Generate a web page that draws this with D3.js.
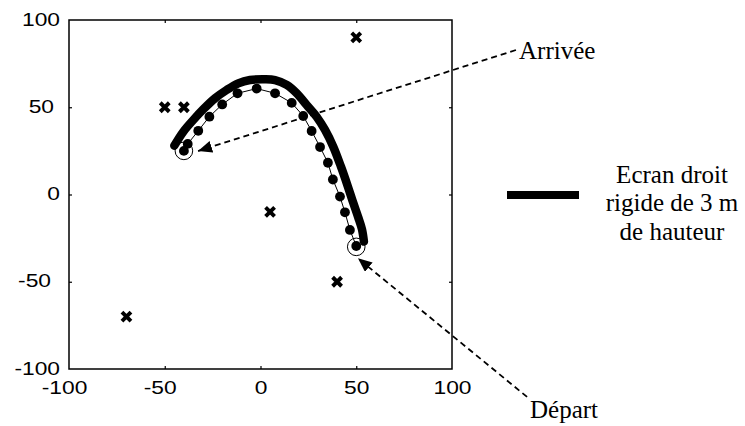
<!DOCTYPE html>
<html>
<head>
<meta charset="utf-8">
<script src="https://cdn.jsdelivr.net/npm/d3@7"></script>
<style>
  html, body { margin: 0; padding: 0; background: #fff; }
  svg { display: block; }
</style>
</head>
<body>
<svg id="chart" width="745" height="426"></svg>
<script>
// ---------- data ----------
const xTicks = [-100, -50, 0, 50, 100];
const yTicks = [-100, -50, 0, 50, 100];

// noise barrier (thick line)
const screenX = [-45, -40.3, -35.1, -29.9, -23.8, -17.7, -11.6, -5.5, 1.5, 7.6, 13.7, 18.9, 24.1, 29.3, 33.7, 38, 42, 45.5, 48.5, 51, 53, 54];
const screenY = [28, 36, 42.7, 48.8, 55.1, 59.9, 63.7, 65.6, 66, 65.6, 62.8, 58, 51.3, 44.6, 37, 27.4, 16, 5, -5, -13, -20, -27];

// trajectory points (dots)
const trajX = [-40, -38, -32.5, -26.7, -20, -12, -2, 7.6, 16.3, 22.3, 26.7, 31.1, 35.2, 37.8, 41.5, 44.1, 46.7, 50];
const trajY = [25, 29, 36.5, 44.6, 51.6, 58, 60.7, 58, 52.5, 45, 36.4, 27.2, 18.2, 8.6, -1.2, -10.2, -20.3, -29.5];

// circled end points (arrival, departure)
const endX = [-40, 50];
const endY = [25, -30];

// crosses
const crossX = [-70, -50, -40, 5, 40, 50];
const crossY = [-70, 50, 50, -10, -50, 90];

// annotation arrows (data units): tail -> tip
const arrowLabels = ["Arrivée", "Départ"];
const arrowTailX = [133.4, 139.2];
const arrowTailY = [82.8, -116];
const arrowTipX = [-32.6, 50.9];
const arrowTipY = [24.9, -36.6];

const legendLines = ["Ecran droit", "rigide de 3 m", "de hauteur"];

// ---------- layout ----------
const svg = d3.select("#chart");
const x = d3.scaleLinear().domain([-100, 100]).range([69, 452]);
const y = d3.scaleLinear().domain([-100, 100]).range([369, 20]);
const sansFont = "Liberation Sans, Arial, Helvetica, sans-serif";
const serifFont = "Liberation Serif, Times New Roman, serif";
const fmt = d => String(d);

// axes
const inner = [-50, 0, 50];
function styleAxis(g) {
  g.select(".domain").remove();
  g.selectAll(".tick line").attr("stroke", "#000").attr("stroke-width", 1.2);
  g.selectAll(".tick").filter(d => !inner.includes(d)).select("line").remove();
  g.selectAll("text").attr("fill", "#000").attr("font-family", sansFont).attr("font-size", 19);
}

const gx = svg.append("g").attr("transform", `translate(0,${y(-100)})`)
  .call(d3.axisBottom(x).tickValues(xTicks).tickSizeInner(-3).tickSizeOuter(0).tickPadding(12).tickFormat(fmt));
styleAxis(gx);
gx.selectAll("text").attr("transform", d => `translate(${d < 0 ? -5 : 0},0) scale(1.2,1)`);

const gy = svg.append("g").attr("transform", `translate(${x(-100)},0)`)
  .call(d3.axisLeft(y).tickValues(yTicks).tickSizeInner(-3).tickSizeOuter(0).tickPadding(0).tickFormat(fmt));
styleAxis(gy);
gy.selectAll("text").attr("x", 0)
  .attr("transform", d => {
    let dx = -9;
    if (d === 50) dx = -15;
    if (d === -50) dx = -18;
    return `translate(${dx},-1) scale(1.2,1)`;
  });

const gt = svg.append("g").attr("transform", `translate(0,${y(100)})`)
  .call(d3.axisTop(x).tickValues(xTicks).tickSizeInner(-3).tickSizeOuter(0).tickFormat(""));
styleAxis(gt);
const gr = svg.append("g").attr("transform", `translate(${x(100)},0)`)
  .call(d3.axisRight(y).tickValues(yTicks).tickSizeInner(-3).tickSizeOuter(0).tickFormat(""));
styleAxis(gr);

// frame
svg.append("rect")
  .attr("x", x(-100)).attr("y", y(100))
  .attr("width", x(100) - x(-100)).attr("height", y(-100) - y(100))
  .attr("fill", "none").attr("stroke", "#000").attr("stroke-width", 1.5);

// crosses
const cs = 4.5;
const crossG = svg.append("g").attr("stroke", "#000").attr("stroke-width", 3.9);
crossX.forEach((cx, i) => {
  const px = x(cx), py = y(crossY[i]);
  crossG.append("path").attr("d", `M${px - cs},${py - cs}L${px + cs},${py + cs}M${px - cs},${py + cs}L${px + cs},${py - cs}`);
});

// trajectory thin line
const trajPts = trajX.map((v, i) => [v, trajY[i]]);
svg.append("path")
  .attr("d", d3.line().x(d => x(d[0])).y(d => y(d[1]))(trajPts))
  .attr("fill", "none").attr("stroke", "#000").attr("stroke-width", 1);

// dots
svg.append("g").selectAll("circle").data(trajPts).join("circle")
  .attr("cx", d => x(d[0])).attr("cy", d => y(d[1])).attr("r", 4.9).attr("fill", "#000");

// circled endpoints
svg.append("g").selectAll("circle").data(endX.map((v, i) => [v, endY[i]])).join("circle")
  .attr("cx", d => x(d[0])).attr("cy", d => y(d[1])).attr("r", 8.8)
  .attr("fill", "none").attr("stroke", "#000").attr("stroke-width", 1);

// screen thick line
const screenPts = screenX.map((v, i) => [v, screenY[i]]);
svg.append("path")
  .attr("d", d3.line().x(d => x(d[0])).y(d => y(d[1])).curve(d3.curveCatmullRom)(screenPts))
  .attr("fill", "none").attr("stroke", "#000").attr("stroke-width", 8.5)
  .attr("stroke-linecap", "round").attr("stroke-linejoin", "round");

// arrow marker
svg.append("defs").append("marker")
  .attr("id", "head").attr("markerUnits", "userSpaceOnUse")
  .attr("markerWidth", 16).attr("markerHeight", 14)
  .attr("refX", 14).attr("refY", 6).attr("orient", "auto")
  .append("path").attr("d", "M0,0L14,6L0,12Z").attr("fill", "#000");

arrowLabels.forEach((lab, i) => {
  svg.append("line")
    .attr("x1", x(arrowTailX[i])).attr("y1", y(arrowTailY[i]))
    .attr("x2", x(arrowTipX[i])).attr("y2", y(arrowTipY[i]))
    .attr("stroke", "#000").attr("stroke-width", 1.8)
    .attr("stroke-dasharray", "6,4")
    .attr("marker-end", "url(#head)");
});

svg.append("text").attr("x", 519).attr("y", 59).text(arrowLabels[0])
  .attr("font-family", serifFont).attr("font-size", 25).attr("fill", "#000");
svg.append("text").attr("x", 530).attr("y", 418).text(arrowLabels[1])
  .attr("font-family", serifFont).attr("font-size", 25).attr("fill", "#000");

// legend
svg.append("line").attr("x1", 507).attr("x2", 579).attr("y1", 195).attr("y2", 195)
  .attr("stroke", "#000").attr("stroke-width", 8);
svg.append("g").selectAll("text").data(legendLines).join("text")
  .attr("x", 672).attr("y", (d, i) => 182.5 + i * 28.7)
  .attr("text-anchor", "middle")
  .attr("font-family", serifFont).attr("font-size", 25).attr("fill", "#000")
  .text(d => d);
</script>
</body>
</html>
